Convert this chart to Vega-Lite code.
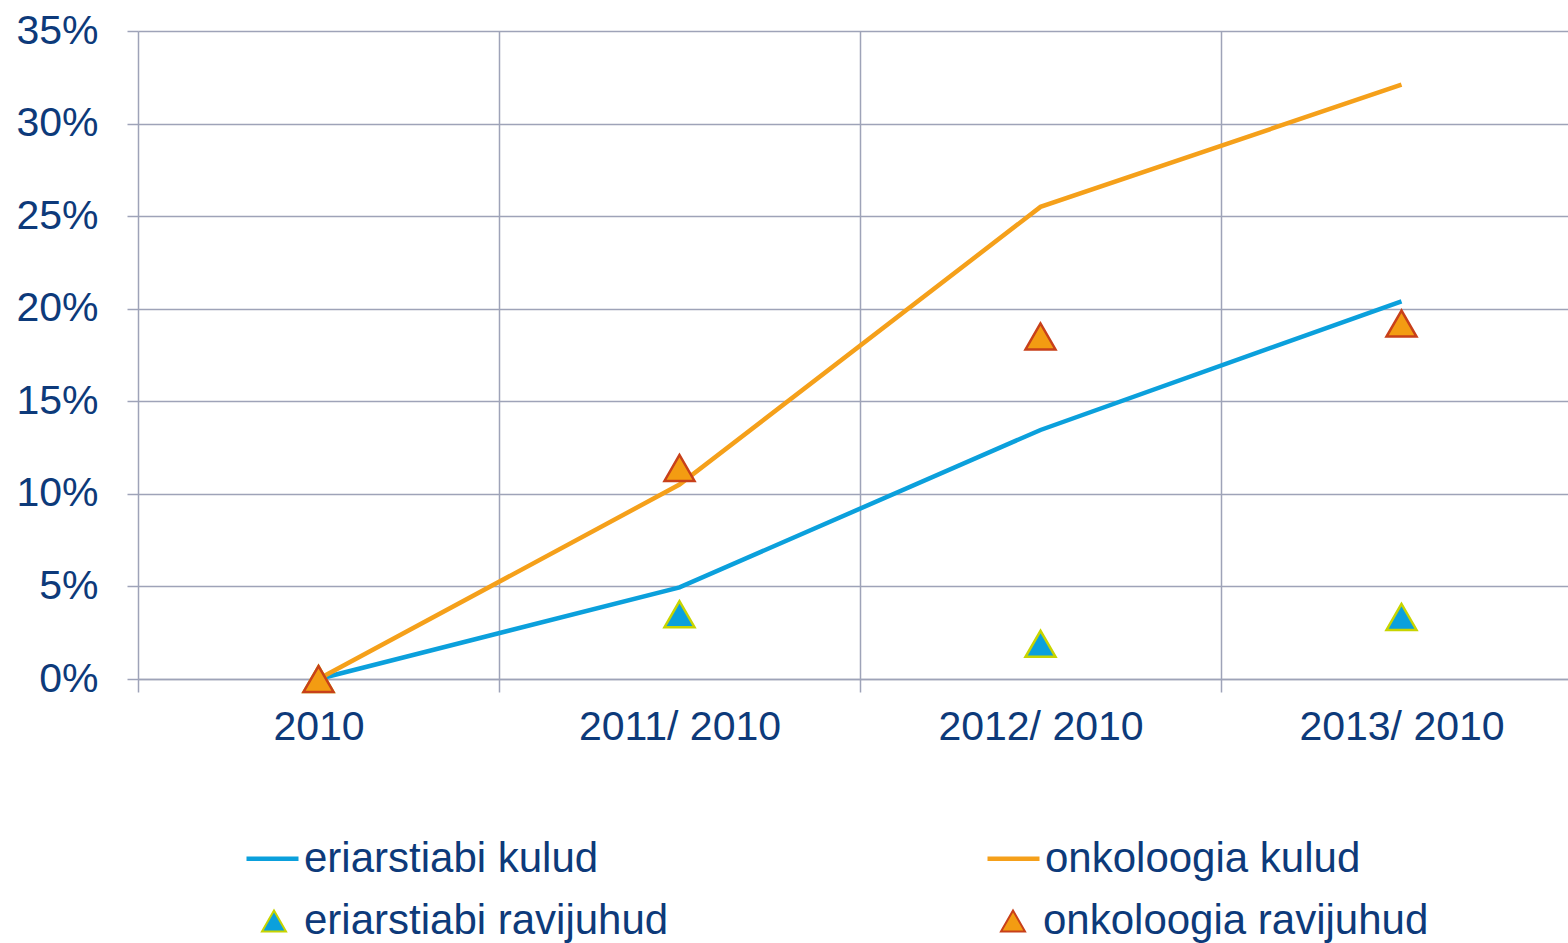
{
  "$schema": "https://vega.github.io/schema/vega-lite/v6.json",
  "width": 1430,
  "height": 648,
  "autosize": {"type": "none"},
  "padding": {"left": 138, "top": 31, "right": 0, "bottom": 264},
  "background": "white",
  "config": {"view": {"stroke": null}, "font": "Liberation Sans"},
  "data": {"values": [
    {"cat": "2010", "series": "eriarstiabi kulud", "kind": "line", "value": 0},
    {"cat": "2011/ 2010", "series": "eriarstiabi kulud", "kind": "line", "value": 0.0495},
    {"cat": "2012/ 2010", "series": "eriarstiabi kulud", "kind": "line", "value": 0.1345},
    {"cat": "2013/ 2010", "series": "eriarstiabi kulud", "kind": "line", "value": 0.204},
    {"cat": "2010", "series": "onkoloogia kulud", "kind": "line", "value": 0},
    {"cat": "2011/ 2010", "series": "onkoloogia kulud", "kind": "line", "value": 0.105},
    {"cat": "2012/ 2010", "series": "onkoloogia kulud", "kind": "line", "value": 0.255},
    {"cat": "2013/ 2010", "series": "onkoloogia kulud", "kind": "line", "value": 0.321},
    {"cat": "2010", "series": "eriarstiabi ravijuhud", "kind": "point", "value": 0},
    {"cat": "2011/ 2010", "series": "eriarstiabi ravijuhud", "kind": "point", "value": 0.035},
    {"cat": "2012/ 2010", "series": "eriarstiabi ravijuhud", "kind": "point", "value": 0.019},
    {"cat": "2013/ 2010", "series": "eriarstiabi ravijuhud", "kind": "point", "value": 0.0335},
    {"cat": "2010", "series": "onkoloogia ravijuhud", "kind": "point", "value": 0},
    {"cat": "2011/ 2010", "series": "onkoloogia ravijuhud", "kind": "point", "value": 0.114},
    {"cat": "2012/ 2010", "series": "onkoloogia ravijuhud", "kind": "point", "value": 0.185},
    {"cat": "2013/ 2010", "series": "onkoloogia ravijuhud", "kind": "point", "value": 0.192}
  ]},
  "encoding": {
    "x": {
      "field": "cat", "type": "nominal",
      "sort": ["2010", "2011/ 2010", "2012/ 2010", "2013/ 2010"],
      "scale": {"type": "band", "range": [0, 1444], "paddingInner": 0, "paddingOuter": 0},
      "axis": {
        "title": null, "labelAngle": 0, "labelFontSize": 41, "labelColor": "#0D3A7A",
        "labelFont": "Liberation Sans", "labelPadding": 15, "labelLimit": 0, "tickSize": 13,
        "tickColor": "#9EA3B8", "tickWidth": 1.5, "domainColor": "#9EA3B8", "domainWidth": 1.5,
        "grid": true, "gridColor": "#9EA3B8", "gridWidth": 1.5, "tickBand": "extent"
      }
    },
    "y": {
      "field": "value", "type": "quantitative",
      "scale": {"domain": [0, 0.35]},
      "axis": {
        "title": null, "values": [0, 0.05, 0.1, 0.15, 0.2, 0.25, 0.3, 0.35], "format": ".0%",
        "labelFontSize": 41, "labelColor": "#0D3A7A", "labelFont": "Liberation Sans",
        "labelPadding": 29, "tickSize": 11, "tickColor": "#9EA3B8", "tickWidth": 1.5,
        "domain": false, "grid": true, "gridColor": "#9EA3B8", "gridWidth": 1.5
      }
    }
  },
  "layer": [
    {
      "transform": [{"filter": "datum.kind == 'line'"}],
      "mark": {"type": "line", "strokeWidth": 4.5},
      "encoding": {
        "color": {
          "field": "series", "type": "nominal",
          "scale": {"domain": ["eriarstiabi kulud", "onkoloogia kulud"], "range": ["#0BA0DC", "#F5A01A"]},
          "legend": {
            "orient": "none", "legendX": 106, "legendY": 799, "direction": "horizontal", "columns": 2,
            "columnPadding": 379, "padding": 0, "title": null,
            "labelFontSize": 42, "labelColor": "#0D3A7A", "labelFont": "Liberation Sans",
            "labelLimit": 0, "labelOffset": 3, "symbolSize": 2704, "symbolType": "stroke",
            "symbolStrokeWidth": 4.5
          }
        }
      }
    },
    {
      "transform": [{"filter": "datum.kind == 'point'"}],
      "mark": {"type": "point", "filled": true, "shape": "triangle-up", "size": 900, "strokeWidth": 2.5, "opacity": 1},
      "encoding": {
        "fill": {
          "field": "series", "type": "nominal",
          "scale": {"domain": ["eriarstiabi ravijuhud", "onkoloogia ravijuhud"], "range": ["#0BA0DC", "#F39C12"]},
          "legend": {
            "orient": "none", "legendX": 115, "legendY": 869, "direction": "horizontal", "columns": 2,
            "columnPadding": 323, "padding": 0, "title": null,
            "labelFontSize": 42, "labelColor": "#0D3A7A", "labelFont": "Liberation Sans",
            "labelLimit": 0, "labelOffset": 9, "symbolSize": 576, "symbolType": "triangle-up",
            "symbolStrokeWidth": 2
          }
        },
        "stroke": {
          "field": "series", "type": "nominal",
          "scale": {"domain": ["eriarstiabi ravijuhud", "onkoloogia ravijuhud"], "range": ["#C8D400", "#C8401A"]},
          "legend": {
            "orient": "none", "legendX": 115, "legendY": 869, "direction": "horizontal", "columns": 2,
            "columnPadding": 323, "padding": 0, "title": null,
            "labelFontSize": 42, "labelColor": "#0D3A7A", "labelFont": "Liberation Sans",
            "labelLimit": 0, "labelOffset": 9, "symbolSize": 576, "symbolType": "triangle-up",
            "symbolStrokeWidth": 2
          }
        }
      }
    }
  ]
}
